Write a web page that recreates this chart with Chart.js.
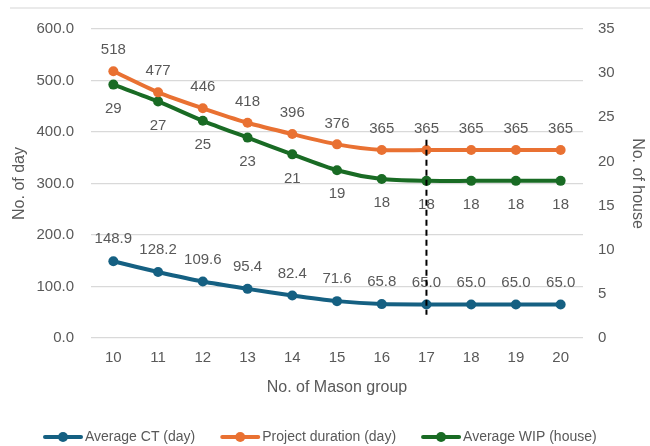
<!DOCTYPE html>
<html>
<head>
<meta charset="utf-8">
<script src="https://cdn.jsdelivr.net/npm/chart.js@4.4.1/dist/chart.umd.min.js"></script>
<style>
html,body{margin:0;padding:0;background:#fff;}
#wrap{width:650px;height:446px;position:relative;}
</style>
</head>
<body>
<div id="wrap"><canvas id="c" width="650" height="446"></canvas></div>
<script>
const categories = ['10','11','12','13','14','15','16','17','18','19','20'];
const avgCT = [148.9, 128.2, 109.6, 95.4, 82.4, 71.6, 65.8, 65.0, 65.0, 65.0, 65.0];
const projectDuration = [518, 477, 446, 418, 396, 376, 365, 365, 365, 365, 365];
const avgWIP = [28.7, 26.8, 24.6, 22.7, 20.8, 19.0, 18.0, 17.8, 17.8, 17.8, 17.8];
const seriesNames = ['Average CT (day)', 'Project duration (day)', 'Average WIP (house)'];
const leftTicks = [0, 100, 200, 300, 400, 500, 600];
const rightTicks = [0, 5, 10, 15, 20, 25, 30, 35];
const cutoffCategory = '17';
const cutoffRange = [385, 45]; // in left-axis units

const COLORS = ['#156082', '#E97132', '#196B24'];
const TXT = '#595959';
const FONT = "'Liberation Sans', Arial, sans-serif";

const labelPlugin = {
  id: 'valueLabels',
  afterDatasetsDraw(chart){
    const ctx = chart.ctx;
    ctx.save();
    ctx.font = "15px " + FONT;
    ctx.fillStyle = TXT;
    ctx.textAlign = 'center';
    ctx.textBaseline = 'middle';
    chart.data.datasets.forEach((ds, i) => {
      const meta = chart.getDatasetMeta(i);
      meta.data.forEach((pt, j) => {
        const v = ds.data[j];
        let txt, dy;
        if (i === 0) { txt = v.toFixed(1); dy = -22; }
        else if (i === 1) { txt = String(v); dy = -21; }
        else { txt = String(Math.round(v)); dy = 24; }
        ctx.fillText(txt, pt.x, pt.y + dy);
      });
    });
    // dashed cutoff line
    const xs = chart.scales.x, ys = chart.scales.y;
    const px = xs.getPixelForValue(categories.indexOf(cutoffCategory));
    ctx.strokeStyle = '#000';
    ctx.lineWidth = 2;
    ctx.setLineDash([6,4]);
    ctx.beginPath();
    ctx.moveTo(px, ys.getPixelForValue(cutoffRange[0]));
    ctx.lineTo(px, ys.getPixelForValue(cutoffRange[1]));
    ctx.stroke();
    ctx.restore();
  },
  afterDraw(chart){
    const ctx = chart.ctx;
    ctx.save();
    // top frame line
    ctx.strokeStyle = '#e3e3e3';
    ctx.lineWidth = 1.5;
    ctx.beginPath(); ctx.moveTo(10, 8); ctx.lineTo(650, 8); ctx.stroke();
    // legend
    ctx.font = "14px " + FONT;
    ctx.textBaseline = 'middle';
    ctx.textAlign = 'left';
    let x = 43;
    const y = 437;
    chart.data.datasets.forEach((ds, i) => {
      const c = COLORS[i];
      ctx.strokeStyle = c; ctx.lineWidth = 4; ctx.lineCap = 'round';
      ctx.beginPath(); ctx.moveTo(x + 2, y); ctx.lineTo(x + 38, y); ctx.stroke();
      ctx.fillStyle = c;
      ctx.beginPath(); ctx.arc(x + 20, y, 5, 0, Math.PI * 2); ctx.fill();
      ctx.fillStyle = TXT;
      ctx.fillText(ds.label, x + 42, y);
      x += 42 + ctx.measureText(ds.label).width + 25;
    });
    ctx.restore();
  }
};

new Chart(document.getElementById('c'), {
  type: 'line',
  data: {
    labels: categories,
    datasets: [
      {label: seriesNames[0], data: avgCT, yAxisID: 'y', borderColor: COLORS[0], backgroundColor: COLORS[0]},
      {label: seriesNames[1], data: projectDuration, yAxisID: 'y', borderColor: COLORS[1], backgroundColor: COLORS[1]},
      {label: seriesNames[2], data: avgWIP, yAxisID: 'y1', borderColor: COLORS[2], backgroundColor: COLORS[2]}
    ].map(d => Object.assign(d, {borderWidth: 4, pointRadius: 5, pointHoverRadius: 5, pointBorderWidth: 0, tension: 0.25, fill: false}))
  },
  options: {
    responsive: false,
    animation: false,
    layout: {padding: {left: 0, right: 0, top: 29, bottom: 0}},
    plugins: {
      legend: {display: false},
      tooltip: {enabled: false}
    },
    scales: {
      x: {
        offset: true,
        grid: {display: false},
        border: {display: false},
        ticks: {color: TXT, font: {size: 15, family: FONT}, padding: 3},
        title: {display: true, text: 'No. of Mason group', color: TXT, font: {size: 16, family: FONT}, padding: {top: 0, bottom: 49}},
        afterFit(s){ s.height = 108; }
      },
      y: {
        position: 'left',
        min: 0, max: 600,
        afterBuildTicks(s){ s.ticks = leftTicks.map(v=>({value:v})); },
        grid: {color: '#d9d9d9', lineWidth: 1.2, drawTicks: false},
        border: {display: false},
        ticks: {color: TXT, font: {size: 15, family: FONT}, padding: 17, callback: v => Number(v).toFixed(1)},
        title: {display: true, text: 'No. of day', color: TXT, font: {size: 16, family: FONT}, padding: {top: 10, bottom: 0}},
        afterFit(s){ s.width = 91; }
      },
      y1: {
        position: 'right',
        min: 0, max: 35,
        afterBuildTicks(s){ s.ticks = rightTicks.map(v=>({value:v})); },
        grid: {display: false, drawTicks: false},
        border: {display: false},
        ticks: {color: TXT, font: {size: 15, family: FONT}, padding: 15},
        title: {display: true, text: 'No. of house', color: TXT, font: {size: 16, family: FONT}, padding: {top: 3, bottom: 0}},
        afterFit(s){ s.width = 67; }
      }
    }
  },
  plugins: [labelPlugin]
});
</script>
</body>
</html>
